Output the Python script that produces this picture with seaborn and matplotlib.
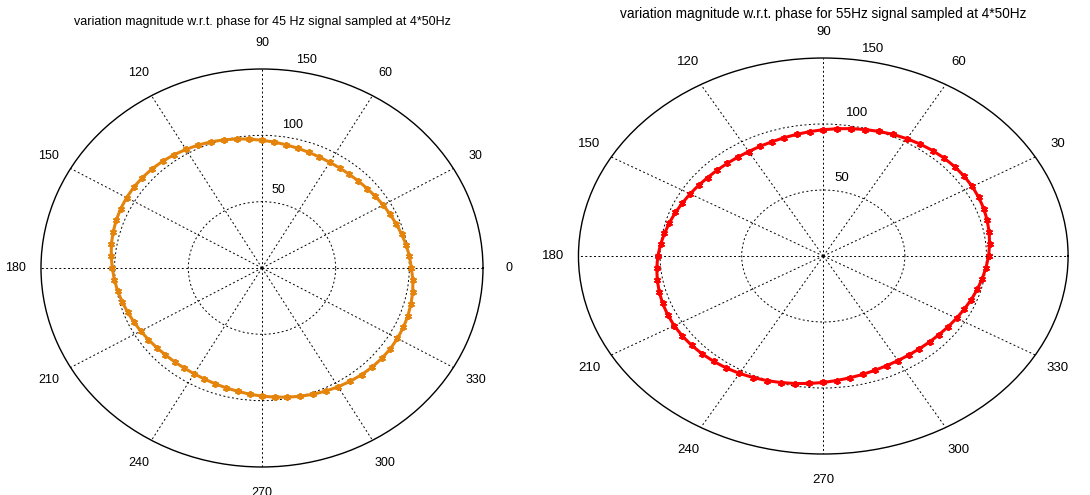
import numpy as np
import matplotlib
matplotlib.use("Agg")
import matplotlib.pyplot as plt
import seaborn as sns

# phase in degrees (every 5 deg, closed loop)
phase_deg = list(range(0, 365, 5))

# magnitude (0..355 deg, then back to 0)
mag_45hz = [
    101.4, 100.5, 99.4, 98.2, 97.0, 95.9, 95.0, 94.0, 93.2, 92.6, 92.2, 92.0, 92.0, 92.3, 92.8, 93.5, 94.3, 95.3,
    96.3, 97.5, 98.8, 100.0, 101.2, 102.3, 103.2, 104.2, 105.0, 105.6, 106.0, 106.2, 106.1, 105.8, 105.3, 104.6, 103.8, 102.7,
    101.6, 100.6, 99.5, 98.3, 97.1, 96.0, 95.1, 94.1, 93.3, 92.7, 92.3, 92.1, 92.1, 92.4, 92.9, 93.6, 94.4, 95.5,
    96.6, 97.7, 98.9, 100.1, 101.3, 102.4, 103.4, 104.3, 105.1, 105.7, 106.1, 106.3, 106.2, 105.9, 105.4, 104.7, 103.9, 102.8,
    101.4,
]

# magnitude
mag_55hz = [
    101.3, 102.3, 103.2, 104.0, 104.7, 105.1, 105.4, 105.4, 105.2, 104.8, 104.3, 103.5, 102.6, 101.6, 100.4, 99.2, 98.0, 96.8,
    95.7, 94.6, 93.6, 92.8, 92.1, 91.7, 91.4, 91.4, 91.6, 92.0, 92.5, 93.3, 94.2, 95.2, 96.4, 97.6, 98.8, 100.1,
    101.4, 102.4, 103.3, 104.1, 104.8, 105.2, 105.5, 105.5, 105.3, 104.9, 104.3, 103.6, 102.7, 101.6, 100.5, 99.3, 98.1, 96.9,
    95.8, 94.7, 93.7, 92.9, 92.2, 91.7, 91.5, 91.5, 91.7, 92.1, 92.6, 93.4, 94.3, 95.3, 96.5, 97.7, 98.9, 100.1,
    101.3,
]

theta_ticks = list(range(0, 360, 30))
r_ticks = [50, 100, 150]
titles = [
    "variation magnitude w.r.t. phase for 45 Hz signal sampled at 4*50Hz",
    "variation magnitude w.r.t. phase for 55Hz signal sampled at 4*50Hz",
]
colors = ["#E5840C", "#FF0000"]

sns.set_style("white")
plt.rcParams["font.family"] = ["Liberation Sans", "DejaVu Sans"]

fig = plt.figure(figsize=(10.9, 4.95), dpi=100)
rects = [
    [0.0376, 0.0566, 0.4055, 0.804],
    [0.5307, 0.0828, 0.4492, 0.800],
]
title_y = [1.118, 1.111]
tick_fs = [9, 9.5]
title_fs = [9, 9.8]

for i, mag in enumerate([mag_45hz, mag_55hz]):
    ax = fig.add_axes(rects[i], projection="polar")
    ax.set_aspect("auto")
    sns.lineplot(x=np.deg2rad(phase_deg), y=mag, ax=ax, sort=False,
                 color=colors[i], linewidth=2.2, marker=(6, 2, 0),
                 markersize=5, markeredgewidth=1.3, markeredgecolor=colors[i])
    ax.set_ylim(0, 150)
    ax.set_rticks(r_ticks[:2])
    ax.set_yticklabels([])
    ax.set_thetagrids(theta_ticks, [str(t) for t in theta_ticks], fontsize=tick_fs[i])
    ax.tick_params(axis="x", pad=8, labelcolor="black")
    ax.grid(True, color="black", linestyle=(0, (2, 2.5)), linewidth=0.7)
    ax.spines["polar"].set_color("black")
    ax.spines["polar"].set_linewidth(1.0)
    for rv in r_ticks:
        ax.text(np.deg2rad(79), rv + 10, str(rv), ha="center", va="center",
                fontsize=tick_fs[i], color="black", clip_on=False)
    ax.set_xlabel("")
    ax.set_ylabel("")
    ax.text(0.5, title_y[i], titles[i], transform=ax.transAxes,
            ha="center", va="center", fontsize=title_fs[i], color="black")

fig.savefig("out.png", dpi=100)
